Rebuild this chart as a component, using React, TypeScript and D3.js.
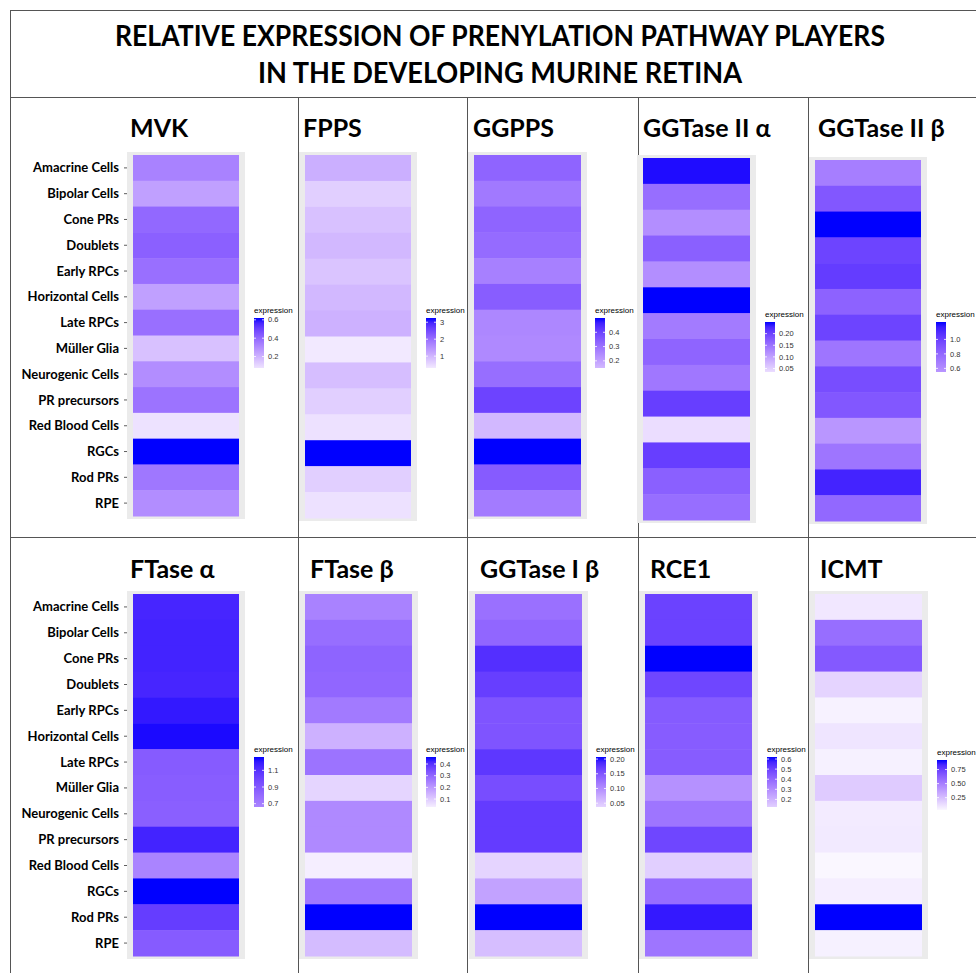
import React from 'react';
import * as d3 from 'd3';

const cellTypes = [
  'Amacrine Cells', 'Bipolar Cells', 'Cone PRs', 'Doublets', 'Early RPCs',
  'Horizontal Cells', 'Late RPCs', 'Müller Glia', 'Neurogenic Cells',
  'PR precursors', 'Red Blood Cells', 'RGCs', 'Rod PRs', 'RPE',
];

const titleLines = [
  'RELATIVE EXPRESSION OF PRENYLATION PATHWAY PLAYERS',
  'IN THE DEVELOPING MURINE RETINA',
];

const geneNames = ['MVK', 'FPPS', 'GGPPS', 'GGTase II α', 'GGTase II β', 'FTase α', 'FTase β', 'GGTase I β', 'RCE1', 'ICMT'];

const mvk = [0.33, 0.25, 0.40, 0.42, 0.38, 0.25, 0.38, 0.16, 0.30, 0.37, 0.075, 0.62, 0.36, 0.30];
const fpps = [1.1, 0.65, 0.85, 0.97, 0.8, 0.97, 1.07, 0.3, 0.88, 0.65, 0.4, 3.25, 0.65, 0.4];
const ggpps = [0.33, 0.285, 0.33, 0.315, 0.27, 0.345, 0.255, 0.25, 0.31, 0.40, 0.15, 0.50, 0.35, 0.28];
const ggtase2a = [0.245, 0.155, 0.12, 0.17, 0.12, 0.25, 0.14, 0.165, 0.145, 0.205, 0.035, 0.205, 0.17, 0.155];
const ggtase2b = [0.68, 0.89, 1.24, 0.99, 1.03, 0.83, 0.99, 0.73, 0.94, 0.89, 0.55, 0.73, 1.14, 0.80];
const ftaseA = [1.15, 1.16, 1.16, 1.15, 1.2, 1.24, 0.88, 0.87, 0.86, 1.16, 0.66, 1.26, 1.04, 0.88];
const ftaseB = [0.245, 0.285, 0.305, 0.30, 0.26, 0.15, 0.275, 0.08, 0.23, 0.23, 0.032, 0.265, 0.46, 0.13];
const ggtase1b = [0.126, 0.135, 0.182, 0.17, 0.151, 0.151, 0.176, 0.157, 0.172, 0.172, 0.037, 0.081, 0.207, 0.056];
const rce1 = [0.5, 0.5, 0.62, 0.49, 0.435, 0.43, 0.43, 0.29, 0.365, 0.49, 0.125, 0.385, 0.59, 0.365];
const icmt = [0.09, 0.57, 0.65, 0.165, 0.05, 0.10, 0.055, 0.2, 0.075, 0.08, 0.03, 0.065, 0.92, 0.055];

const mvkTicks = [0.2, 0.4, 0.6];
const fppsTicks = [1, 2, 3];
const ggppsTicks = [0.2, 0.3, 0.4];
const ggtase2aTicks = [0.05, 0.1, 0.15, 0.2];
const ggtase2bTicks = [0.6, 0.8, 1.0];
const ftaseATicks = [0.7, 0.9, 1.1];
const ftaseBTicks = [0.1, 0.2, 0.3, 0.4];
const ggtase1bTicks = [0.05, 0.1, 0.15, 0.2];
const rce1Ticks = [0.2, 0.3, 0.4, 0.5, 0.6];
const icmtTicks = [0.25, 0.5, 0.75];

const seriesList = [mvk, fpps, ggpps, ggtase2a, ggtase2b, ftaseA, ftaseB, ggtase1b, rce1, icmt];
const tickList = [mvkTicks, fppsTicks, ggppsTicks, ggtase2aTicks, ggtase2bTicks, ftaseATicks, ftaseBTicks, ggtase1bTicks, rce1Ticks, icmtTicks];
const tickFormats = ['.1f', 'd', '.1f', '.2f', '.1f', '.1f', '.1f', '.2f', '.1f', '.2f'];

// layout (positions only)
const layout = [
  { tx: [133, 239], ty: [155, 516], title: [130, 137], lx: 254, lt: 318 },
  { tx: [305, 411], ty: [155, 518], title: [303, 137], lx: 426, lt: 318 },
  { tx: [474, 581], ty: [155, 516], title: [473, 137], lx: 595, lt: 318 },
  { tx: [643, 750], ty: [158, 520], title: [643, 137], lx: 765, lt: 322 },
  { tx: [815, 921], ty: [160, 521], title: [818, 137], lx: 936, lt: 322 },
  { tx: [133, 239], ty: [594, 956], title: [130, 578], lx: 254, lt: 757 },
  { tx: [305, 412], ty: [594, 956], title: [310, 578], lx: 426, lt: 757 },
  { tx: [475, 582], ty: [594, 956], title: [480, 578], lx: 596, lt: 757 },
  { tx: [645, 752], ty: [594, 956], title: [650, 578], lx: 767, lt: 757 },
  { tx: [815, 922], ty: [594, 956], title: [820, 578], lx: 937, lt: 760 },
];

const LABEL_FONT = 'Lato, "Open Sans", sans-serif';
const LEG_FONT = '"Liberation Sans", Arial, sans-serif';
const BAR_W = 10;
const BAR_H = 50;

function Panel({ idx }: { idx: number }) {
  const values = seriesList[idx];
  const L = layout[idx];
  const max = d3.max(values) as number;
  const min = d3.min(values) as number;
  const color = d3.scaleLinear<string>().domain([0, max]).range(['white', 'blue']).interpolate(d3.interpolateLab);
  const y = d3.scaleBand<string>().domain(cellTypes).range(L.ty as [number, number]).paddingInner(0).paddingOuter(0);
  const x0 = L.tx[0], x1 = L.tx[1];
  const legY = d3.scaleLinear().domain([min, max]).range([L.lt + BAR_H, L.lt]);
  const gradId = `grad${idx}`;
  const stops = d3.range(0, 1.0001, 0.1).map((f) => ({ off: f, c: color(min + (max - min) * f) }));
  const fmt = d3.format(tickFormats[idx]);
  const showLabels = idx === 0 || idx === 5;
  return (
    <g>
      <defs>
        <linearGradient id={gradId} x1="0" y1="1" x2="0" y2="0">
          {stops.map((s, i) => (
            <stop key={i} offset={s.off} stopColor={s.c} />
          ))}
        </linearGradient>
      </defs>
      <text x={L.title[0]} y={L.title[1]} fontFamily={LABEL_FONT} fontWeight={700} fontSize={25} fill="#000">
        {geneNames[idx]}
      </text>
      <rect x={x0 - 6} y={L.ty[0] - 3} width={x1 - x0 + 12} height={L.ty[1] - L.ty[0] + 6} fill="#EBEBEB" />
      {cellTypes.map((c, i) => (
        <rect key={c} x={x0} y={y(c)} width={x1 - x0} height={y.bandwidth() + 0.5} fill={color(values[i])} />
      ))}
      {showLabels &&
        cellTypes.map((c) => (
          <g key={c}>
            <line x1={x0 - 9} x2={x0 - 6} y1={(y(c) as number) + y.bandwidth() / 2} y2={(y(c) as number) + y.bandwidth() / 2} stroke="#333" strokeWidth={0.8} />
            <text x={x0 - 14} y={(y(c) as number) + y.bandwidth() / 2} dy="0.35em" textAnchor="end" fontFamily={LABEL_FONT} fontWeight={700} fontSize={13} fill="#000">
              {c}
            </text>
          </g>
        ))}
      <text x={L.lx} y={L.lt - 5} fontFamily={LEG_FONT} fontSize={8} fill="#000">expression</text>
      <rect x={L.lx} y={L.lt} width={BAR_W} height={BAR_H} fill={`url(#${gradId})`} />
      {tickList[idx]
        .filter((t) => t >= min && t <= max)
        .map((t) => (
          <g key={t}>
            <line x1={L.lx} x2={L.lx + 2} y1={legY(t)} y2={legY(t)} stroke="white" strokeWidth={0.8} />
            <line x1={L.lx + BAR_W - 2} x2={L.lx + BAR_W} y1={legY(t)} y2={legY(t)} stroke="white" strokeWidth={0.8} />
            <text x={L.lx + BAR_W + 4} y={legY(t)} dy="0.35em" fontFamily={LEG_FONT} fontSize={7.5} fill="#333">
              {fmt(t)}
            </text>
          </g>
        ))}
    </g>
  );
}

export default function App() {
  const W = 976, H = 973;
  const lineColor = '#555';
  const vx = [298, 467, 638, 808];
  return (
    <svg width={W} height={H} style={{ position: 'absolute', left: 0, top: 0, background: '#fff' }}>
      <rect width={W} height={H} fill="#fff" />
      <line x1={10} x2={W} y1={10.5} y2={10.5} stroke={lineColor} strokeWidth={1} />
      <line x1={10.5} x2={10.5} y1={10} y2={H} stroke={lineColor} strokeWidth={1} />
      <line x1={10} x2={W} y1={97.5} y2={97.5} stroke={lineColor} strokeWidth={1} />
      <line x1={10} x2={W} y1={537.5} y2={537.5} stroke={lineColor} strokeWidth={1} />
      {vx.map((x) => (
        <line key={x} x1={x + 0.5} x2={x + 0.5} y1={97} y2={H} stroke={lineColor} strokeWidth={1} />
      ))}
      <text x={500} y={46} textAnchor="middle" fontFamily={LABEL_FONT} fontWeight={700} fontSize={28} textLength={770} lengthAdjust="spacingAndGlyphs">
        {titleLines[0]}
      </text>
      <text x={500} y={83} textAnchor="middle" fontFamily={LABEL_FONT} fontWeight={700} fontSize={28} textLength={484} lengthAdjust="spacingAndGlyphs">
        {titleLines[1]}
      </text>
      {seriesList.map((_, i) => (
        <Panel key={i} idx={i} />
      ))}
    </svg>
  );
}
